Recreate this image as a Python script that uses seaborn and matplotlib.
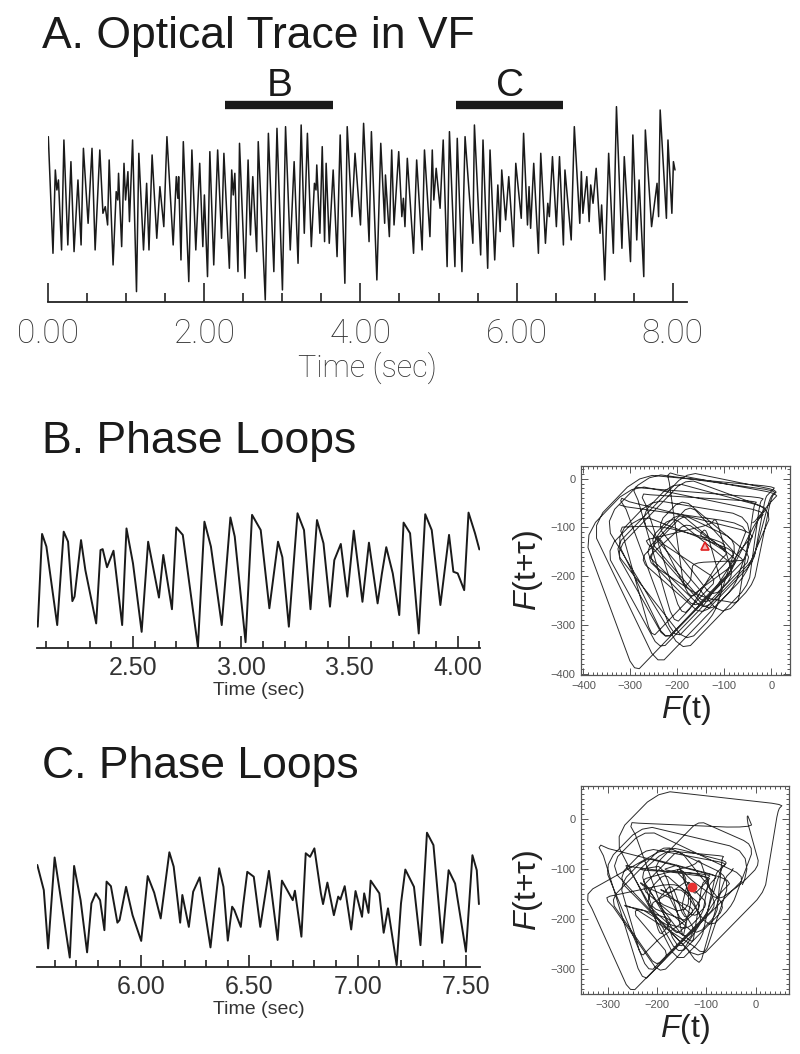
import numpy as np
import pandas as pd
import seaborn as sns
import matplotlib
matplotlib.use("Agg")
import matplotlib.pyplot as plt
from matplotlib.ticker import MultipleLocator, FormatStrFormatter

sns.set_theme(style="white")
plt.rcParams['font.family'] = ['Liberation Sans', 'DejaVu Sans']
plt.rcParams['mathtext.fontset'] = 'custom'
plt.rcParams['mathtext.it'] = 'Liberation Sans:italic'
plt.rcParams['mathtext.rm'] = 'Liberation Sans'

# A. optical trace in VF: turning points (sec, a.u.)
trace_a_t = [0.00, 0.06, 0.09, 0.11, 0.13, 0.17, 0.20, 0.25, 0.29, 0.33, 0.38, 0.42, 0.45, 0.51,
             0.56, 0.60, 0.66, 0.70, 0.73, 0.76, 0.78, 0.83, 0.87, 0.89, 0.90, 0.94, 0.97, 0.99,
             1.02, 1.04, 1.08, 1.13, 1.16, 1.22, 1.26, 1.29, 1.33, 1.39, 1.43, 1.48, 1.52, 1.60,
             1.64, 1.66, 1.67, 1.70, 1.73, 1.80, 1.84, 1.89, 1.94, 1.98, 2.00, 2.04, 2.07, 2.12,
             2.17, 2.22, 2.25, 2.32, 2.35, 2.37, 2.39, 2.43, 2.45, 2.52, 2.56, 2.59, 2.62, 2.67,
             2.69, 2.78, 2.82, 2.89, 2.93, 3.00, 3.04, 3.10, 3.15, 3.20, 3.24, 3.28, 3.32, 3.37,
             3.41, 3.43, 3.44, 3.48, 3.51, 3.54, 3.56, 3.60, 3.65, 3.70, 3.74, 3.80, 3.83, 3.89,
             3.93, 4.00, 4.04, 4.11, 4.14, 4.21, 4.26, 4.31, 4.32, 4.37, 4.40, 4.43, 4.49, 4.53,
             4.55, 4.57, 4.60, 4.68, 4.72, 4.79, 4.82, 4.89, 4.92, 4.94, 4.97, 5.02, 5.06, 5.11,
             5.14, 5.21, 5.24, 5.30, 5.34, 5.44, 5.46, 5.54, 5.57, 5.63, 5.66, 5.72, 5.76, 5.79,
             5.81, 5.86, 5.90, 5.96, 5.99, 6.06, 6.09, 6.14, 6.16, 6.18, 6.22, 6.28, 6.31, 6.37,
             6.40, 6.42, 6.46, 6.51, 6.55, 6.60, 6.62, 6.70, 6.74, 6.81, 6.83, 6.85, 6.90, 6.93,
             6.95, 6.98, 7.02, 7.07, 7.09, 7.13, 7.18, 7.24, 7.28, 7.35, 7.38, 7.46, 7.49, 7.54,
             7.57, 7.63, 7.65, 7.73, 7.80, 7.82, 7.84, 7.92, 7.94, 7.99, 8.01, 8.03]
trace_a_v = [98, 28, 78, 66, 72, 30, 96, 33, 83, 29, 72, 33, 91, 46,
             91, 30, 90, 52, 56, 45, 84, 21, 65, 60, 76, 32, 82, 60,
             77, 47, 96, 5, 88, 30, 70, 30, 87, 37, 68, 44, 98, 33,
             74, 61, 74, 24, 95, 11, 90, 30, 82, 32, 63, 14, 89, 21,
             90, 37, 88, 19, 78, 63, 76, 17, 94, 13, 84, 39, 74, 29,
             95, 0, 100, 17, 103, 6, 104, 30, 83, 22, 105, 40, 100, 32,
             70, 66, 81, 40, 92, 35, 82, 34, 78, 26, 99, 10, 104, 50,
             88, 45, 106, 35, 101, 12, 94, 46, 75, 38, 90, 45, 89, 50,
             61, 44, 85, 28, 84, 30, 90, 38, 90, 60, 79, 55, 96, 20,
             101, 20, 97, 17, 98, 34, 105, 27, 96, 19, 90, 24, 69, 41,
             78, 48, 74, 32, 82, 49, 100, 45, 68, 43, 82, 28, 88, 34,
             58, 50, 86, 44, 86, 33, 78, 36, 104, 46, 77, 52, 74, 47,
             69, 58, 79, 40, 57, 12, 88, 28, 116, 31, 86, 23, 99, 36,
             72, 14, 102, 44, 70, 50, 114, 49, 96, 52, 83, 78]

# B window (2.06 - 4.10 s), fluorescence F
trace_b_t = [2.06, 2.08, 2.10, 2.15, 2.18, 2.20, 2.22, 2.23, 2.26, 2.28, 2.33, 2.35, 2.36, 2.38,
             2.41, 2.45, 2.47, 2.50, 2.54, 2.57, 2.62, 2.64, 2.68, 2.70, 2.73, 2.80, 2.83, 2.86,
             2.91, 2.95, 2.97, 3.02, 3.05, 3.09, 3.13, 3.17, 3.19, 3.22, 3.26, 3.29, 3.32, 3.35,
             3.38, 3.41, 3.43, 3.46, 3.49, 3.52, 3.56, 3.59, 3.63, 3.65, 3.67, 3.70, 3.73, 3.75,
             3.78, 3.82, 3.85, 3.88, 3.92, 3.96, 3.98, 4.00, 4.03, 4.05, 4.08, 4.10]
trace_b_f = [-337, -50, -89, -332, -43, -74, -258, -244, -69, -162, -327, -100, -97, -153,
             -102, -332, -33, -141, -353, -74, -247, -115, -283, -30, -53, -400, -12, -89,
             -332, 1, -58, -385, 9, -38, -280, -74, -122, -337, 14, -38, -283, -7,
             -79, -275, -131, -81, -244, -40, -260, -77, -265, -172, -91, -172, -301, -15,
             -48, -358, 11, -38, -270, -53, -167, -172, -224, 16, -48, -98]

# C window (5.52 - 7.56 s), fluorescence F
trace_c_t = [5.52, 5.55, 5.57, 5.60, 5.63, 5.67, 5.69, 5.72, 5.75, 5.77, 5.79, 5.81, 5.83, 5.84,
             5.86, 5.89, 5.90, 5.93, 5.96, 6.00, 6.03, 6.06, 6.09, 6.13, 6.15, 6.18, 6.19, 6.22,
             6.24, 6.27, 6.32, 6.36, 6.38, 6.40, 6.42, 6.43, 6.46, 6.47, 6.49, 6.52, 6.55, 6.59,
             6.63, 6.65, 6.67, 6.70, 6.71, 6.74, 6.76, 6.78, 6.80, 6.83, 6.84, 6.86, 6.89, 6.91,
             6.92, 6.94, 6.97, 6.99, 7.02, 7.03, 7.05, 7.06, 7.10, 7.12, 7.14, 7.18, 7.20, 7.22,
             7.26, 7.29, 7.32, 7.35, 7.39, 7.42, 7.45, 7.50, 7.53, 7.55, 7.56]
trace_c_f = [-43, -120, -299, -20, -151, -327, -46, -151, -311, -161, -130, -151, -243, -94,
             -108, -220, -212, -110, -197, -276, -77, -128, -207, -4, -48, -220, -135, -233,
             -125, -81, -296, -53, -110, -275, -171, -181, -233, -171, -64, -79, -233, -61,
             -273, -91, -115, -151, -122, -263, -7, -18, 8, -130, -163, -97, -197, -140,
             -149, -108, -241, -123, -202, -130, -190, -91, -130, -251, -176, -350, -161, -57,
             -110, -289, 56, 18, -282, -59, -100, -309, -13, -59, -163]

bar_b = [2.27, 3.65]
bar_c = [5.23, 6.59]
bar_level = 116.8
tau = 0.022          # embedding delay (sec)
start_b = (-140, -138)
start_c = (-130, -137)

W, H = 800, 1054
fig = plt.figure(figsize=(W / 100, H / 100), dpi=100)
thin = ['Roboto', 'DejaVu Sans']


def px_axes(x0, y0, x1, y1):
    # rectangle given in picture pixels (top-left origin)
    return fig.add_axes([x0 / W, 1 - y1 / H, (x1 - x0) / W, (y1 - y0) / H])


def trace_axis(ax, major, minor, lab_size, lab_font, lab_weight, maj_len, min_len, pad, lab_col):
    for s in ['left', 'right', 'top']:
        ax.spines[s].set_visible(False)
    ax.spines['bottom'].set_color('#222222')
    ax.spines['bottom'].set_linewidth(1.3)
    ax.set_yticks([])
    ax.xaxis.set_major_locator(MultipleLocator(major))
    ax.xaxis.set_minor_locator(MultipleLocator(minor))
    ax.xaxis.set_major_formatter(FormatStrFormatter('%.2f'))
    ax.tick_params(axis='x', which='both', direction='in', bottom=True, colors='#222222',
                   width=1.2, labelsize=lab_size, labelcolor=lab_col)
    ax.tick_params(axis='x', which='major', length=maj_len, pad=pad)
    ax.tick_params(axis='x', which='minor', length=min_len)
    for lab in ax.get_xticklabels():
        lab.set_family(lab_font)
        lab.set_weight(lab_weight)
    ax.set_ylabel('')
    ax.patch.set_alpha(0)


def delay_frame(t, f, step=0.002):
    grid = np.arange(t[0], t[-1], step)
    sig = pd.Series(np.interp(grid, t, f)).rolling(3, center=True, min_periods=1).mean()
    lag = int(round(tau / step))
    return pd.DataFrame({'F(t)': sig.values[:-lag], 'F(t+tau)': sig.values[lag:]})


def phase_axis(ax, xlim, ylim):
    ax.set_xlim(*xlim)
    ax.set_ylim(*ylim)
    for s in ax.spines.values():
        s.set_color('#555555')
        s.set_linewidth(0.9)
    ax.xaxis.set_major_locator(MultipleLocator(100))
    ax.yaxis.set_major_locator(MultipleLocator(100))
    ax.xaxis.set_minor_locator(MultipleLocator(10))
    ax.yaxis.set_minor_locator(MultipleLocator(10))
    ax.tick_params(which='both', direction='in', top=True, right=True, bottom=True, left=True,
                   colors='#555555', width=0.7, labelsize=8, labelcolor='#555555')
    ax.tick_params(which='major', length=5, pad=4)
    ax.tick_params(which='minor', length=2.5)
    ax.set_xlabel(r'$\mathit{F}$(t)', fontsize=23, color='#222222', labelpad=2)
    ax.set_ylabel(r'$\mathit{F}$(t+τ)', fontsize=23, color='#222222', labelpad=4)


# ---- A. whole trace ----
dfa = pd.DataFrame({'time': trace_a_t, 'signal': trace_a_v})
axa = px_axes(48.3, 100, 686.7, 301.6)
sns.lineplot(data=dfa, x='time', y='signal', ax=axa, color='#1a1a1a', linewidth=1.1)
axa.set_xlim(0, 8.18)
axa.set_ylim(-1, 120)
trace_axis(axa, 2, 0.5, 24, thin, 'light', 13.7, 6.5, 12, '#333333')
axa.set_xlabel('Time (sec)', fontsize=22, color='#333333', family=thin,
               weight='light', labelpad=1)
for seg, name in [(bar_b, 'B'), (bar_c, 'C')]:
    axa.plot(seg, [bar_level, bar_level], color='#1a1a1a', lw=6, solid_capstyle='butt',
             clip_on=False)
    axa.text(sum(seg) / 2, bar_level + 5.5, name, ha='center', va='baseline', fontsize=28,
             color='#1a1a1a', clip_on=False)

fig.text(42 / W, 1 - 48 / H, 'A. Optical Trace in VF', fontsize=32, color='#1a1a1a',
         va='baseline')

# ---- B. phase loops ----
fig.text(42 / W, 1 - 453 / H, 'B. Phase Loops', fontsize=32, color='#1a1a1a', va='baseline')
dfb = pd.DataFrame({'time': trace_b_t, 'F': trace_b_f})
axb = px_axes(37.3, 500, 480, 648)
sns.lineplot(data=dfb, x='time', y='F', ax=axb, color='#1a1a1a', linewidth=1.4)
axb.set_xlim(2.058, 4.103)
axb.set_ylim(-403, 55)
trace_axis(axb, 0.5, 0.1, 18, ['Liberation Sans'], 'normal', 9, 5, 6, '#333333')
axb.set_xlabel('Time (sec)', fontsize=14, color='#333333', labelpad=1)

axbp = px_axes(581, 466, 790, 675)
sns.lineplot(data=delay_frame(trace_b_t, trace_b_f), x='F(t)', y='F(t+tau)', ax=axbp,
             sort=False, estimator=None, color='#2a2a2a', linewidth=0.7)
axbp.plot(*start_b, marker='^', ms=6, mfc='#f6b0b0', mec='#e02020', mew=1.2)
phase_axis(axbp, (-405, 40), (-403, 26))

# ---- C. phase loops ----
fig.text(42 / W, 1 - 778 / H, 'C. Phase Loops', fontsize=32, color='#1a1a1a', va='baseline')
dfc = pd.DataFrame({'time': trace_c_t, 'F': trace_c_f})
axc = px_axes(37.3, 820, 480, 967)
sns.lineplot(data=dfc, x='time', y='F', ax=axc, color='#1a1a1a', linewidth=1.4)
axc.set_xlim(5.52, 7.565)
axc.set_ylim(-356, 95)
trace_axis(axc, 0.5, 0.1, 18, ['Liberation Sans'], 'normal', 9, 5, 6, '#333333')
axc.set_xlabel('Time (sec)', fontsize=14, color='#333333', labelpad=1)

axcp = px_axes(581, 786, 789, 994)
sns.lineplot(data=delay_frame(trace_c_t, trace_c_f), x='F(t)', y='F(t+tau)', ax=axcp,
             sort=False, estimator=None, color='#2a2a2a', linewidth=0.7)
axcp.plot(*start_c, marker='o', ms=6, mfc='#e83030', mec='#e83030')
phase_axis(axcp, (-355, 68), (-350, 65))

fig.savefig('out.png', dpi=100)
